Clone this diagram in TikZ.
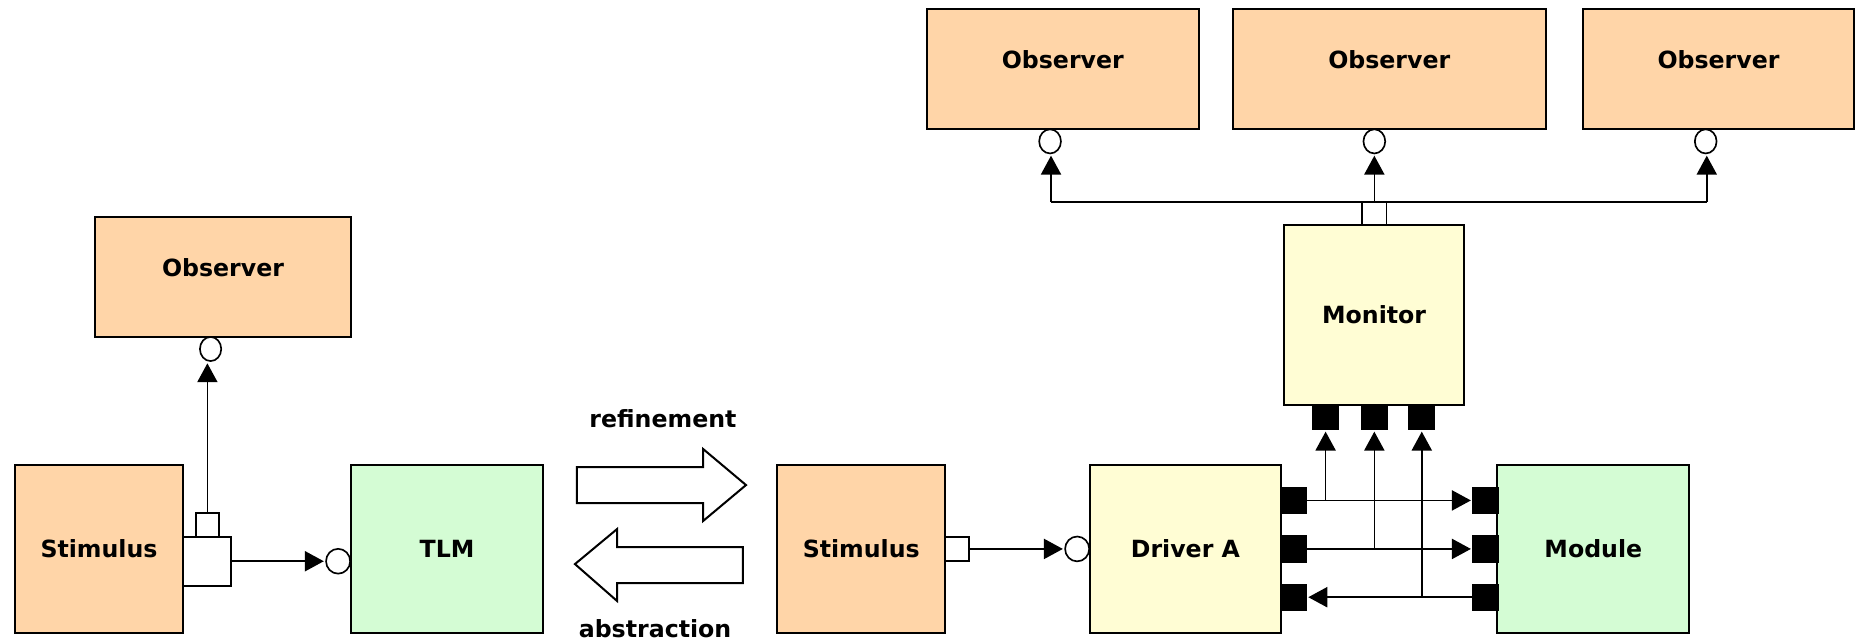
\documentclass[tikz,border=0pt]{standalone}
\usepackage{fontspec}
\setmainfont{DejaVu Sans}
\usetikzlibrary{shapes,arrows.meta,positioning}
\definecolor{peach}{RGB}{255,213,168}
\definecolor{mint}{RGB}{212,252,212}
\definecolor{cream}{RGB}{255,253,212}

\begin{document}
\begin{tikzpicture}[x=0.5pt, y=-0.5pt, line width=0.7pt,
  font=\fontsize{10}{12}\selectfont\bfseries]
\tikzstyle{blk}=[draw=black, line width=0.9pt, inner sep=0pt, text height=7.2pt, text depth=0pt]
\tikzstyle{obs}=[blk, fill=peach, minimum height=50.7pt, text depth=8pt]
\tikzstyle{stim}=[blk, fill=peach, minimum width=71pt, minimum height=71pt]
\tikzstyle{dut}=[blk, fill=mint, minimum width=81.2pt, minimum height=71pt]
\tikzstyle{vip}=[blk, fill=cream]
\tikzstyle{oport}=[draw, fill=white, inner sep=0pt, minimum width=10pt, minimum height=10pt]
\tikzstyle{fport}=[draw, fill=black, inner sep=0pt, minimum width=10.5pt, minimum height=10.8pt]
\tikzstyle{req}=[draw, ellipse, fill=white, inner sep=0pt, minimum width=9.2pt, minimum height=10.2pt]
\tikzstyle{lbl}=[inner sep=0pt, text height=7.2pt, text depth=0pt]
\tikzstyle{conn}=[-{Triangle[length=8pt,width=8.5pt]}, shorten >=0.6pt]
\tikzstyle{bigarrow}=[draw, fill=white, line width=0.85pt, line join=miter]

\useasboundingbox (0,0) rectangle (1568,541);

% transaction level
\node[obs, minimum width=108.2pt]   (obsL)   at (188.5,234.2) {Observer};
\node[stim]                         (stimL)  at (83.7,464)    {Stimulus};
\node[dut]                          (tlm)    at (377.9,464)   {TLM};
\node[oport, minimum width=20.3pt, minimum height=20.6pt] (stLout) at (175,474.6) {};
\node[oport, minimum width=9.6pt, minimum height=10.2pt]  (stLmon) at (175.3,443.8) {};
\node[req, minimum width=9pt]       (obsLin) at (178,295)     {};
\node[req, minimum width=10.2pt, minimum height=10.5pt] (tlmin) at (285.8,474.4) {};

% refinement / abstraction
\node[lbl] (refine)   at (560.4,354.2) {refinement};
\node[lbl] (abstract) at (553.7,531.7) {abstraction};
\draw[bigarrow] (487.7,394.8) -- (594.3,394.8) -- (594.3,379.5) -- (630.6,410)
  -- (594.3,440.4) -- (594.3,425.2) -- (487.7,425.2) -- cycle;
\draw[bigarrow] (628,462.4) -- (521.6,462.4) -- (521.6,447.2) -- (486,476.8)
  -- (521.6,508) -- (521.6,492.8) -- (628,492.8) -- cycle;

% signal level
\node[stim]                                          (stimR) at (728,464)       {Stimulus};
\node[vip, minimum width=81pt, minimum height=71pt]  (drv)   at (1002,464)      {Driver A};
\node[dut]                                           (mod)   at (1346.8,464)    {Module};
\node[vip, minimum width=76pt, minimum height=76pt]  (mon)   at (1161.5,266.25) {Monitor};
\node[obs, minimum width=115.1pt] (obs1) at (898.4,58.6)   {Observer};
\node[obs, minimum width=132.3pt] (obs2) at (1174.3,58.6)  {Observer};
\node[obs, minimum width=114.9pt] (obs3) at (1452.65,58.6) {Observer};

\node[oport]                        (stRout) at (809,464)   {};
\node[req, minimum width=10.2pt, minimum height=10.5pt] (drvin) at (910.5,464) {};
\foreach \i/\y in {1/423, 2/464, 3/504.8} {
  \node[fport] (drv\i) at (1093.5,\y) {};
  \node[fport] (mod\i) at (1255.7,\y) {};
}
\foreach \i/\x in {1/1120.5, 2/1161.7, 3/1201.8}
  \node[fport, minimum width=10.75pt, minimum height=10.35pt] (mon\i) at (\x,352.6) {};
\node[oport, minimum width=10.3pt, minimum height=9.85pt] (monout) at (1161.7,180.3) {};
\foreach \i/\x in {1/887.6, 2/1161.7, 3/1441.8}
  \node[req] (req\i) at (\x,119.5) {};
\coordinate (busL) at (888.4,170.5);
\coordinate (busR) at (1442.7,170.5);

\path[conn]
(stLout.east |- tlmin) edge (tlmin.west)
(stRout.east)          edge (drvin.west)
(drv1.east)            edge (mod1.west)
(drv2.east)            edge (mod2.west)
(mod3.west)            edge (drv3.east);
\draw[conn] (stLmon.north) -- (stLmon.north |- obsLin.south);
\foreach \i in {1,2,3}
  \draw[conn] (mon\i |- drv\i) -- (mon\i.south);
\draw (busL) -- (busR);
\draw[conn] (busL) -- (busL |- req1.south);
\draw[conn] (monout.north) -- (req2.south);
\draw[conn] (busR) -- (busR |- req3.south);
\end{tikzpicture}
\end{document}
